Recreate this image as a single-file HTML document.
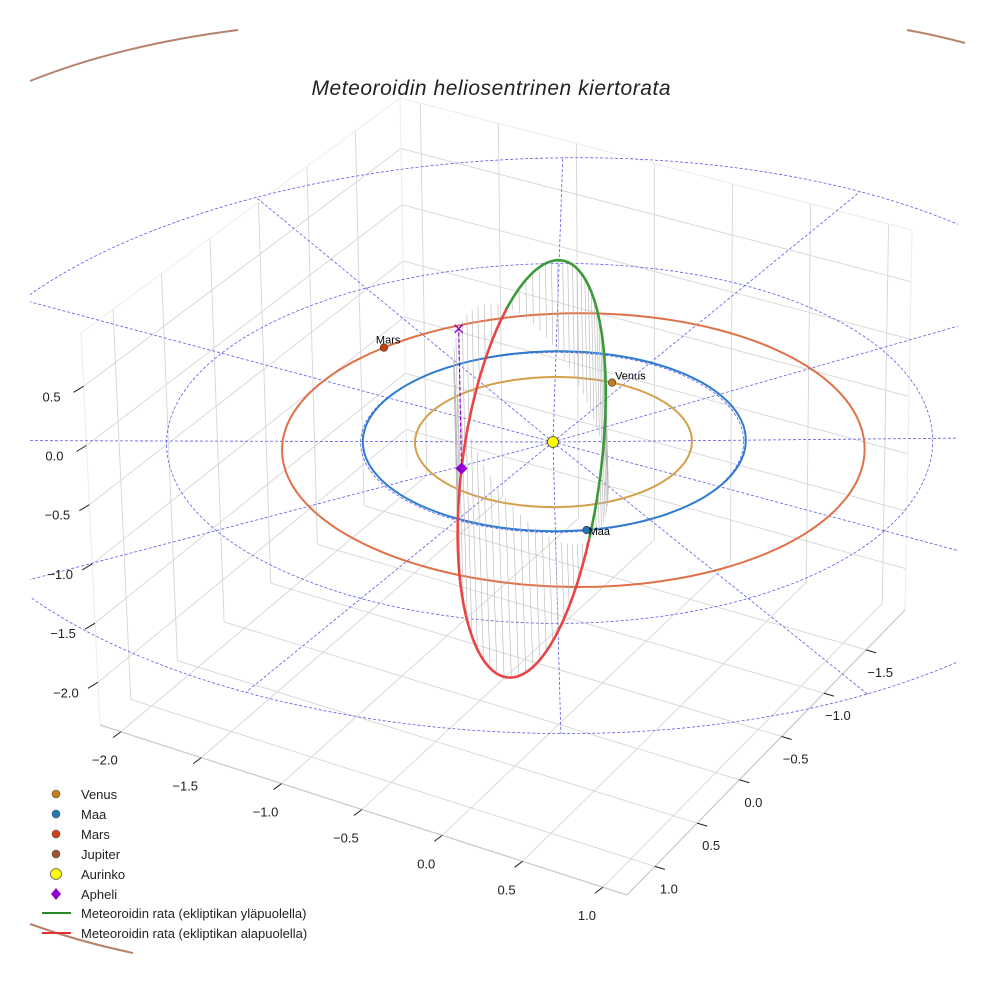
<!DOCTYPE html>
<html><head><meta charset="utf-8"><style>
html,body{margin:0;padding:0;background:#fff}
svg{display:block;font-family:"Liberation Sans",sans-serif}
</style></head><body>
<svg id="chart" width="984" height="984" viewBox="0 0 984 984">
<defs><clipPath id="clip"><rect x="30" y="30" width="928" height="925"/></clipPath></defs>
<rect width="984" height="984" fill="#fff"/>
<g id="grid"></g>
<g id="rings" clip-path="url(#clip)"></g>
<g id="orbits"></g>
<g id="meteor"></g>
<g id="marks"></g>
<g id="ticks"></g>
<path d="M30,81 Q120,45 238,30" fill="none" stroke="#b8826a" stroke-width="2"/>
<path d="M907,30 Q935,35 965,43" fill="none" stroke="#b8826a" stroke-width="2"/>
<path d="M30,924 Q80,942 133,953" fill="none" stroke="#b8826a" stroke-width="2"/>
<text x="491" y="95" text-anchor="middle" font-size="21" font-style="italic" fill="#222" textLength="359">Meteoroidin heliosentrinen kiertorata</text>
<g font-size="13" fill="#222">
 <g><circle cx="56" cy="794" r="4" fill="#c87b1a" stroke="#555" stroke-width="0.6"/><text x="81" y="799">Venus</text></g>
 <g><circle cx="56" cy="814" r="4" fill="#1f77b4" stroke="#555" stroke-width="0.6"/><text x="81" y="819">Maa</text></g>
 <g><circle cx="56" cy="834" r="4" fill="#cc4010" stroke="#555" stroke-width="0.6"/><text x="81" y="839">Mars</text></g>
 <g><circle cx="56" cy="854" r="4" fill="#a0522d" stroke="#555" stroke-width="0.6"/><text x="81" y="859">Jupiter</text></g>
 <g><circle cx="56" cy="874" r="5.5" fill="#ffff00" stroke="#555" stroke-width="0.8"/><text x="81" y="879">Aurinko</text></g>
 <g><path d="M56,888 L61,894 L56,900 L51,894 Z" fill="#9400d3"/><text x="81" y="899">Apheli</text></g>
 <g><line x1="42" y1="913" x2="71" y2="913" stroke="#2a8a2a" stroke-width="2"/><text x="81" y="918">Meteoroidin rata (ekliptikan yläpuolella)</text></g>
 <g><line x1="42" y1="933" x2="71" y2="933" stroke="#e03030" stroke-width="2"/><text x="81" y="938">Meteoroidin rata (ekliptikan alapuolella)</text></g>
</g>
</svg>
<script>
// ---- data ----
var xRange = [-2.13, 1.15];
var yRange = [-1.96, 1.33];
var zRange = [-2.36, 0.95];
var xTicks = [-2, -1.5, -1, -0.5, 0, 0.5, 1];
var yTicks = [-1.5, -1, -0.5, 0, 0.5, 1];
var zTicks = [-2, -1.5, -1, -0.5, 0, 0.5];
var planetNames = ["Venus", "Maa", "Mars"];
var planetA = [0.723, 1.0, 1.524];
var planetE = [0.0068, 0.0167, 0.0934];
var planetPeri = [131, 103, 185];
var planetAngle = [265, 50, 200];
var planetColors = ["#c87b1a", "#1f77b4", "#cc4010"];
var orbitColors = ["#d4a04a", "#2f7bd0", "#e07048"];
var ringRadii = [1, 2, 3.2];
var radialAngles = [0, 30, 60, 90, 120, 150, 180, 210, 240, 270, 300, 330];
var radialLength = [3.2];
var metA = [1.403];
var metE = [0.292];
var metInc = [76];
var metNode = [50.5];
var metPeri = [56.6];
var aphelionNu = [165];

// ---- projection (box corners in screen) ----
var C = {
 "000":[407,470],"100":[905,610],"010":[100,725],"110":[627,895],
 "001":[400,98],"101":[912,230],"011":[81,333],"111":[610,465]};
function P(x,y,z){
 var u=(x-xRange[0])/(xRange[1]-xRange[0]);
 var v=(y-yRange[0])/(yRange[1]-yRange[0]);
 var w=(z-zRange[0])/(zRange[1]-zRange[0]);
 var r=[0,0];
 for(var k=0;k<2;k++){
  var a=C["000"][k]*(1-u)+C["100"][k]*u, b=C["010"][k]*(1-u)+C["110"][k]*u;
  var c=C["001"][k]*(1-u)+C["101"][k]*u, d=C["011"][k]*(1-u)+C["111"][k]*u;
  var lo=a*(1-v)+b*v, hi=c*(1-v)+d*v;
  r[k]=lo*(1-w)+hi*w;
 }
 return r;
}
var P0=P(0,0,0), SUN=[553,442], ZOOM=1.045;
function PD(x,y,z){var p=P(x,y,z);return [SUN[0]+ZOOM*(p[0]-P0[0]),SUN[1]+ZOOM*(p[1]-P0[1])];}
var NS="http://www.w3.org/2000/svg";
function mk(parent,tag,attrs){var e=document.createElementNS(NS,tag);for(var k in attrs)e.setAttribute(k,attrs[k]);parent.appendChild(e);return e;}
function line3(parent,a,b,attrs,proj){proj=proj||P;var p=proj(a[0],a[1],a[2]),q=proj(b[0],b[1],b[2]);attrs.x1=p[0];attrs.y1=p[1];attrs.x2=q[0];attrs.y2=q[1];return mk(parent,"line",attrs);}
function poly(parent,pts,attrs){attrs.points=pts.map(function(p){return p[0].toFixed(1)+","+p[1].toFixed(1);}).join(" ");attrs.fill="none";return mk(parent,"polyline",attrs);}
var rad=Math.PI/180;
var X0=xRange[0],X1=xRange[1],Y0=yRange[0],Y1=yRange[1],Z0=zRange[0],Z1=zRange[1];

// ---- grid ----
var g=document.getElementById("grid");
var gs={stroke:"#d6d6d6","stroke-width":"0.9"};
function gl(a,b,name){var e=line3(g,a,b,Object.assign({},gs));
 
 }
xTicks.forEach(function(t){gl([t,Y0,Z0],[t,Y1,Z0],"floor-grid-x");gl([t,Y0,Z0],[t,Y0,Z1],"wall-grid-x");});
yTicks.forEach(function(t){gl([X0,t,Z0],[X1,t,Z0],"floor-grid-y");gl([X0,t,Z0],[X0,t,Z1],"wall-grid-y");});
zTicks.forEach(function(t){gl([X0,Y0,t],[X0,Y1,t],"wall-grid-z");gl([X0,Y0,t],[X1,Y0,t],"wall-grid-z");});
var es={stroke:"#ececec","stroke-width":"1"};
[[[X0,Y1,Z1],[X0,Y0,Z1]],[[X0,Y0,Z1],[X1,Y0,Z1]],[[X1,Y0,Z1],[X1,Y0,Z0]],[[X0,Y1,Z1],[X0,Y1,Z0]],[[X0,Y0,Z0],[X0,Y0,Z1]]].forEach(function(s){
 var e=line3(g,s[0],s[1],Object.assign({},es));
 
 });
var as={stroke:"#c8c8c8","stroke-width":"1.2"};
[[[X0,Y1,Z0],[X1,Y1,Z0]],[[X1,Y1,Z0],[X1,Y0,Z0]]].forEach(function(s){
 var e=line3(g,s[0],s[1],Object.assign({},as));
 
 });

// ---- ticks ----
var tk=document.getElementById("ticks");
function fmt(t){var s=t.toFixed(1);return t<0?"\u2212"+s.slice(1):s;}
function tickLabel(pt,dx,dy,mx,my,t,name){
 var p=P(pt[0],pt[1],pt[2]);
 var m=mk(tk,"line",{x1:p[0],y1:p[1],x2:p[0]+mx,y2:p[1]+my,stroke:"#222","stroke-width":"1"});
 
 
 var e=mk(tk,"text",{x:p[0]+dx,y:p[1]+dy+5,"text-anchor":"middle","font-size":"13",fill:"#222"});
 e.textContent=fmt(t);
 
 
}
xTicks.forEach(function(t){tickLabel([t,Y1,Z0],-16,28,-8,6,t,"x-tick-label");});
yTicks.forEach(function(t){tickLabel([X1,t,Z0],14,22,10,3,t,"y-tick-label");});
zTicks.forEach(function(t){tickLabel([X0,Y1,t],-32,10,-10,6,t,"z-tick-label");});

// ---- ecliptic rings & radials ----
var rg=document.getElementById("rings");
ringRadii.forEach(function(R){
 var pts=[];for(var k=0;k<=180;k++){var a=k*2*rad;pts.push(PD(R*Math.cos(a),R*Math.sin(a),0));}
 var e=poly(rg,pts,{stroke:"#5a5ae6","stroke-width":"0.8","stroke-dasharray":"3,2"});
 
 
});
radialAngles.forEach(function(A){
 var e=line3(rg,[0,0,0],[radialLength[0]*Math.cos(A*rad),radialLength[0]*Math.sin(A*rad),0],{stroke:"#5a5ae6","stroke-width":"0.8","stroke-dasharray":"3,2"},PD);
 
 
});

// ---- planet orbits ----
var og=document.getElementById("orbits");
function planetPos(i,ang){
 var a=planetA[i],e=planetE[i],w=planetPeri[i]*rad;
 var th=ang*rad;var r=a*(1-e*e)/(1+e*Math.cos(th-w));
 return [r*Math.cos(th),r*Math.sin(th),0];
}
planetA.forEach(function(a,i){
 var pts=[];for(var k=0;k<=180;k++){var p=planetPos(i,k*2);pts.push(PD(p[0],p[1],p[2]));}
 var e=poly(og,pts,{stroke:orbitColors[i],"stroke-width":"2"});
 
 
});

// ---- meteoroid ----
var mg=document.getElementById("meteor");
var Om=metNode[0]*rad,inc=metInc[0]*rad,om=metPeri[0]*rad;
var nh=[Math.cos(Om),Math.sin(Om),0];
var kh=[Math.sin(Om)*Math.cos(inc),-Math.cos(Om)*Math.cos(inc),Math.sin(inc)];
function metPos(nu){
 var r=metA[0]*(1-metE[0]*metE[0])/(1+metE[0]*Math.cos(nu));
 var u=om+nu;
 return [r*(Math.cos(u)*nh[0]+Math.sin(u)*kh[0]),r*(Math.cos(u)*nh[1]+Math.sin(u)*kh[1]),r*(Math.cos(u)*nh[2]+Math.sin(u)*kh[2])];
}
var samples=[];for(var k=0;k<=360;k++)samples.push(metPos(k*rad));
for(var k=0;k<360;k+=5){
 var q=samples[k];
 var e=line3(mg,q,[q[0],q[1],0],{stroke:"#b4b4b4","stroke-width":"0.6"},PD);
 
 
}
var seg=[],sign=null;
function flush(){if(seg.length>1){var e=poly(mg,seg,{stroke:sign>0?"#3a9a3a":"#e84545","stroke-width":"2.6","stroke-linejoin":"round"});
 
 }}
samples.forEach(function(q){var s=q[2]>=0?1:-1;var p=PD(q[0],q[1],q[2]);
 if(sign!==null&&s!==sign){seg.push(p);flush();seg=[p];}else seg.push(p);sign=s;});
flush();

// ---- markers ----
var kg=document.getElementById("marks");
var aph=metPos(aphelionNu[0]*rad);
var pa=PD(aph[0],aph[1],aph[2]),px=PD(aph[0],aph[1],0);
var dl=mk(kg,"line",{x1:pa[0],y1:pa[1],x2:px[0],y2:px[1],stroke:"#9400d3","stroke-width":"1.2","stroke-dasharray":"4,2"});


var xm=mk(kg,"path",{d:"M"+(px[0]-4)+","+(px[1]-4)+"L"+(px[0]+4)+","+(px[1]+4)+"M"+(px[0]-4)+","+(px[1]+4)+"L"+(px[0]+4)+","+(px[1]-4),stroke:"#9400d3","stroke-width":"1.3"});


var dm=mk(kg,"path",{d:"M"+pa[0]+","+(pa[1]-6)+"L"+(pa[0]+6)+","+pa[1]+"L"+pa[0]+","+(pa[1]+6)+"L"+(pa[0]-6)+","+pa[1]+"Z",fill:"#9400d3"});


var labOff={Venus:[3,-3],Maa:[2,5],Mars:[-8,-4]};
planetNames.forEach(function(n,i){
 var p3=planetPos(i,planetAngle[i]);var p=PD(p3[0],p3[1],p3[2]);
 var c=mk(kg,"circle",{cx:p[0],cy:p[1],r:"3.8",fill:planetColors[i],stroke:"#333","stroke-width":"0.6"});
 
 
 var t=mk(kg,"text",{x:p[0]+labOff[n][0],y:p[1]+labOff[n][1],"font-size":"11",fill:"#000"});
 t.textContent=n;
 
 
});
var s0=PD(0,0,0);
var sun=mk(kg,"circle",{cx:s0[0],cy:s0[1],r:"5.5",fill:"#ffff00",stroke:"#444","stroke-width":"0.8"});


</script>
</body></html>
